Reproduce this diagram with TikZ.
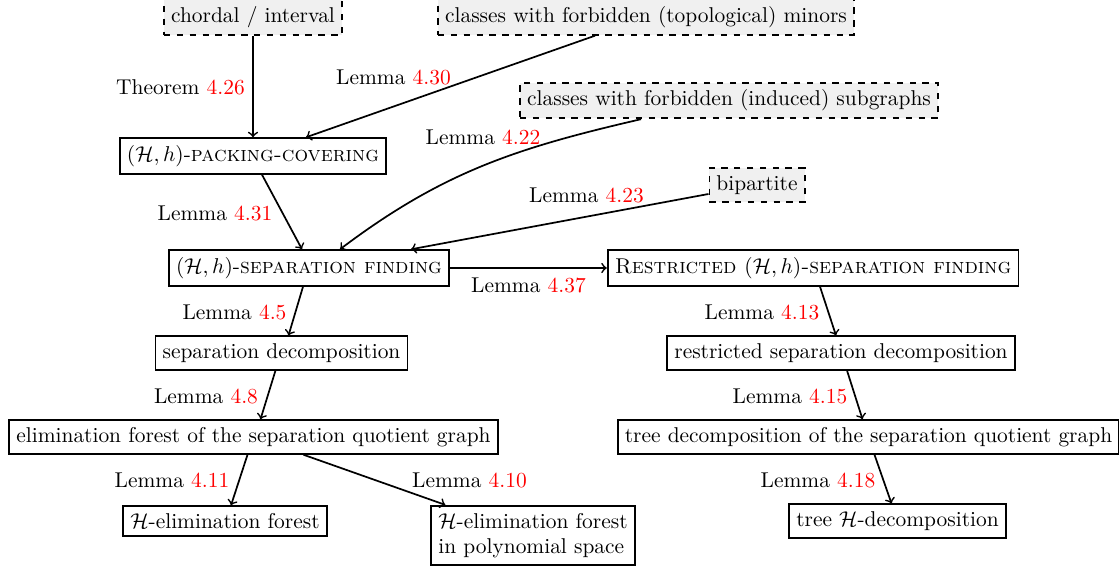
\documentclass[tikz,border=0pt]{standalone}
\usetikzlibrary{calc}
\begin{document}
\begin{tikzpicture}[x=0.4667pt,y=-0.4667pt,
  box/.style={draw,line width=0.8pt,inner sep=3.33pt},
  dbox/.style={box,dashed,fill=black!6},
  lbl/.style={inner sep=0pt},
  arr/.style={->,line width=0.8pt}]
\useasboundingbox (0,0) rectangle (1119,569);
% nodes
\node[dbox] (chordal) at (253,17) {chordal / interval};
\node[dbox] (minors) at (646,17) {classes with forbidden (topological) minors};
\node[dbox] (induced) at (729,100.5) {classes with forbidden (induced) subgraphs};
\node[dbox] (bip) at (757,185) {bipartite};
\node[box] (packing) at (253,156) {$(\mathcal{H},h)$-\textsc{packing-covering}};
\node[box] (sepf) at (309,268) {$(\mathcal{H},h)$-\textsc{separation finding}};
\node[box] (restr) at (813,268) {\textsc{Restricted $(\mathcal{H},h)$-separation finding}};
\node[box] (sepdec) at (281.5,353) {separation decomposition};
\node[box] (rsd) at (841,353) {restricted separation decomposition};
\node[box] (elim) at (253.5,437) {elimination forest of the separation quotient graph};
\node[box] (tdec) at (868.5,437) {tree decomposition of the separation quotient graph};
\node[box] (helim) at (225,521) {$\mathcal{H}$-elimination forest};
\node[box,align=left] (poly) at (533,535.5) {$\mathcal{H}$-elimination forest\\in polynomial space};
\node[box] (tH) at (897.5,521) {tree $\mathcal{H}$-decomposition};
% labels
\node[lbl] (t426) at (180.5,87) {Theorem \textcolor{red}{4.26}};
\node[lbl] (l430) at (393.5,77) {Lemma \textcolor{red}{4.30}};
\node[lbl] (l422) at (483,137) {Lemma \textcolor{red}{4.22}};
\node[lbl] (l423) at (586.5,195) {Lemma \textcolor{red}{4.23}};
\node[lbl] (l431) at (215,213) {Lemma \textcolor{red}{4.31}};
\node[lbl] (l437) at (528.5,285) {Lemma \textcolor{red}{4.37}};
\node[lbl] (l45) at (234.5,312) {Lemma \textcolor{red}{4.5}};
\node[lbl] (l48) at (206,396) {Lemma \textcolor{red}{4.8}};
\node[lbl] (l411) at (172,480) {Lemma \textcolor{red}{4.11}};
\node[lbl] (l410) at (469.5,480) {Lemma \textcolor{red}{4.10}};
\node[lbl] (l413) at (762,312) {Lemma \textcolor{red}{4.13}};
\node[lbl] (l415) at (790,396) {Lemma \textcolor{red}{4.15}};
\node[lbl] (l418) at (818,480) {Lemma \textcolor{red}{4.18}};
% connectors
\draw[arr] (chordal.south) -- (packing.north);
\draw[arr] ($(minors.south)+(-51,0)$) -- ($(packing.north)+(53,0)$);
\draw[arr] ($(induced.south)+(-88,0)$) to[out=193,in=37] ($(sepf.north)+(31,0)$);
\draw[arr] ($(bip.west)+(0,9)$) -- ($(sepf.north)+(102,0)$);
\draw[arr] ($(packing.south)+(9,0)$) -- ($(sepf.north)+(-7,0)$);
\draw[arr] (sepf.east) -- (restr.west);
\draw[arr] ($(sepf.south)+(-6,0)$) -- ($(sepdec.north)+(7,0)$);
\draw[arr] ($(sepdec.south)+(-6,0)$) -- ($(elim.north)+(7,0)$);
\draw[arr] ($(elim.south)+(-6,0)$) -- ($(helim.north)+(6,0)$);
\draw[arr] ($(elim.south)+(50,0)$) -- ($(poly.north west)+(15,0)$);
\draw[arr] ($(restr.south)+(7,0)$) -- ($(rsd.north)+(-5,0)$);
\draw[arr] ($(rsd.south)+(6,0)$) -- ($(tdec.north)+(-6,0)$);
\draw[arr] ($(tdec.south)+(6,0)$) -- ($(tH.north)+(-6,0)$);
\end{tikzpicture}
\end{document}
